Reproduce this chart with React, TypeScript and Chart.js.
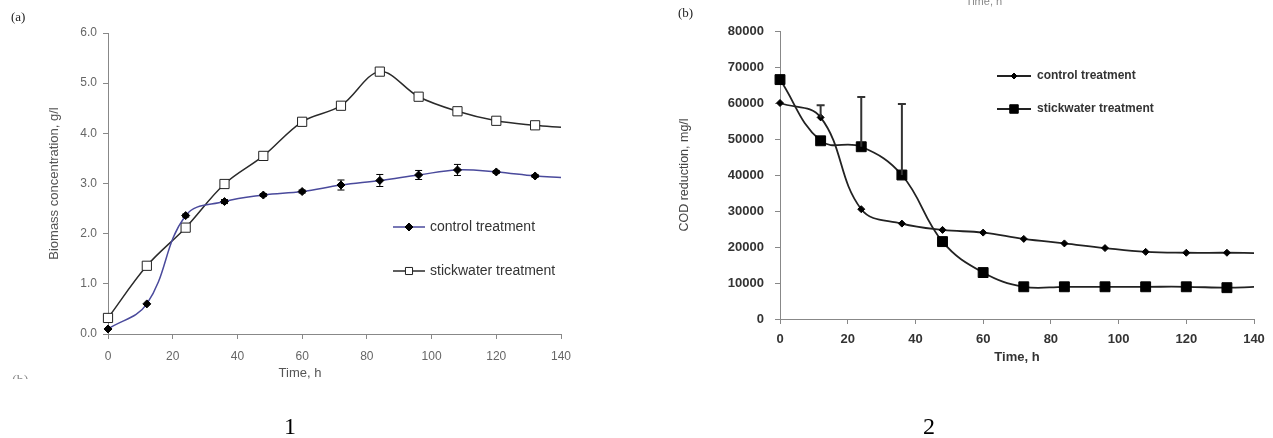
import React, { useEffect, useRef } from 'react';
import { Chart, registerables } from 'chart.js';
import { drawPoint } from 'chart.js/helpers';

Chart.register(...registerables);

const SANS = '"Liberation Sans", Arial, sans-serif';
const SERIF = '"Liberation Serif", "Times New Roman", serif';

// ---------- data ----------
const timeH = [0, 12, 24, 36, 48, 60, 72, 84, 96, 108, 120, 132, 140];
const timeTicks = [0, 20, 40, 60, 80, 100, 120, 140];

// (a) Biomass concentration, g/l
const biomassControl = [0.1, 0.6, 2.36, 2.64, 2.77, 2.84, 2.97, 3.06, 3.17, 3.27, 3.23, 3.15, 3.12];
const biomassControlErr = [0, 0, 0.03, 0.04, 0.03, 0.03, 0.1, 0.12, 0.09, 0.11, 0.03, 0.03, 0];
const biomassStickwater = [0.32, 1.36, 2.12, 2.99, 3.55, 4.23, 4.55, 5.23, 4.73, 4.44, 4.25, 4.16, 4.12];
const biomassTicks = [0, 1, 2, 3, 4, 5, 6];

// (b) COD reduction, mg/l
const codControl = [60000, 56000, 30500, 26500, 24750, 24000, 22250, 21000, 19700, 18650, 18400, 18400, 18300];
const codControlErrUp = [0, 3400, 0, 0, 0, 0, 0, 0, 0, 0, 0, 0, 0];
const codStickwater = [66500, 49500, 47850, 40000, 21500, 12900, 8950, 8950, 8950, 8950, 8950, 8700, 8900];
const codStickwaterErrUp = [0, 0, 13850, 19750, 0, 0, 0, 0, 0, 0, 0, 0, 0];
const codTicks = [0, 10000, 20000, 30000, 40000, 50000, 60000, 70000, 80000];

const seriesLabels = ['control treatment', 'stickwater treatment'];

const pts = (ys: number[]) => timeH.map((x, i) => ({ x, y: ys[i] }));
const radiusExceptLast = (r: number) => (c: any) =>
  c.dataIndex === c.dataset.data.length - 1 ? 0 : r;

// ---------- plugin ----------
const extrasPlugin = {
  id: 'extras',
  afterDatasetsDraw(chart: any) {
    const ctx = chart.ctx;
    const xs = chart.scales.x;
    const ys = chart.scales.y;
    chart.data.datasets.forEach((ds: any) => {
      if (!ds.errUp && !ds.errDown) return;
      ctx.save();
      ctx.strokeStyle = ds.errColor || '#000';
      ctx.lineWidth = ds.errWidth || 1;
      ds.data.forEach((p: any, i: number) => {
        const up = ds.errUp ? ds.errUp[i] : 0;
        const dn = ds.errDown ? ds.errDown[i] : 0;
        if (!up && !dn) return;
        const x = xs.getPixelForValue(p.x);
        const y1 = ys.getPixelForValue(p.y + up);
        const y2 = ys.getPixelForValue(p.y - dn);
        const c = ds.errCap || 4;
        ctx.beginPath();
        ctx.moveTo(x, y1);
        ctx.lineTo(x, y2);
        if (up) { ctx.moveTo(x - c, y1); ctx.lineTo(x + c, y1); }
        if (dn) { ctx.moveTo(x - c, y2); ctx.lineTo(x + c, y2); }
        ctx.stroke();
      });
      ctx.restore();
    });
  },
  afterDraw(chart: any, _args: any, opts: any) {
    const ctx = chart.ctx;
    (opts.legend || []).forEach((item: any) => {
      const ds = chart.data.datasets[item.dataset];
      ctx.save();
      ctx.strokeStyle = ds.borderColor;
      ctx.lineWidth = ds.borderWidth;
      ctx.beginPath();
      ctx.moveTo(item.x1, item.y);
      ctx.lineTo(item.x2, item.y);
      ctx.stroke();
      ctx.fillStyle = ds.pointBackgroundColor;
      ctx.strokeStyle = ds.pointBorderColor;
      ctx.lineWidth = ds.pointBorderWidth;
      drawPoint(ctx, { pointStyle: ds.pointStyle, rotation: 0, radius: item.radius, borderWidth: ds.pointBorderWidth } as any,
        (item.x1 + item.x2) / 2, item.y);
      ctx.font = item.font;
      ctx.fillStyle = item.color;
      ctx.textAlign = 'left';
      ctx.textBaseline = 'middle';
      ctx.fillText(ds.label, item.tx, item.y);
      ctx.restore();
    });
    (opts.texts || []).forEach((t: any) => {
      ctx.save();
      if (t.clip) {
        ctx.beginPath();
        ctx.rect(t.clip[0], t.clip[1], t.clip[2], t.clip[3]);
        ctx.clip();
      }
      ctx.font = t.font;
      ctx.fillStyle = t.color;
      ctx.textAlign = t.align || 'left';
      ctx.textBaseline = t.baseline || 'middle';
      ctx.fillText(t.text, t.x, t.y);
      ctx.restore();
    });
  },
};

function axisGrid(color: string) {
  return {
    display: true,
    drawOnChartArea: false,
    drawTicks: true,
    tickLength: 5,
    color,
    lineWidth: 1,
  };
}

function makeBiomassConfig(): any {
  return {
    type: 'line',
    data: {
      datasets: [
        {
          label: seriesLabels[0],
          data: pts(biomassControl),
          borderColor: '#4a4a9c',
          borderWidth: 1.5,
          pointStyle: 'rectRot',
          pointRadius: radiusExceptLast(4),
          pointBackgroundColor: '#000',
          pointBorderColor: '#000',
          pointBorderWidth: 1,
          tension: 0.4,
          clip: false,
          errUp: biomassControlErr,
          errDown: biomassControlErr,
          errColor: '#000',
          errWidth: 1,
          errCap: 3.5,
        },
        {
          label: seriesLabels[1],
          data: pts(biomassStickwater),
          borderColor: '#2a2a2a',
          borderWidth: 1.5,
          pointStyle: 'rect',
          pointRadius: radiusExceptLast(6.5),
          pointBackgroundColor: '#fff',
          pointBorderColor: '#222',
          pointBorderWidth: 1,
          tension: 0.35,
          clip: false,
        },
      ],
    },
    options: {
      responsive: false,
      animation: false,
      devicePixelRatio: 1,
      layout: { padding: { left: 0, top: 33, right: 69, bottom: 48 } },
      plugins: {
        legend: { display: false },
        tooltip: { enabled: false },
        extras: {
          legend: [
            { dataset: 0, x1: 393, x2: 425, y: 227, tx: 430, radius: 4, font: `14px ${SANS}`, color: '#333' },
            { dataset: 1, x1: 393, x2: 425, y: 271, tx: 430, radius: 5, font: `14px ${SANS}`, color: '#333' },
          ],
          texts: [
            { text: '(a)', x: 11, y: 18, font: `13px ${SERIF}`, color: '#222' },
            { text: 'Time, h', x: 300, y: 373, align: 'center', font: `13px ${SANS}`, color: '#555' },
            { text: '(b)', x: 12, y: 374, baseline: 'top', font: `14px ${SERIF}`, color: '#888', clip: [0, 360, 60, 19] },
            { text: '1', x: 290, y: 434, align: 'center', baseline: 'alphabetic', font: `24px ${SERIF}`, color: '#000' },
          ],
        },
      },
      scales: {
        x: {
          type: 'linear',
          min: 0,
          max: 140,
          afterBuildTicks: (s: any) => { s.ticks = timeTicks.map((v) => ({ value: v })); },
          ticks: { color: '#666', font: { family: SANS, size: 12 }, padding: 10, maxRotation: 0 },
          grid: axisGrid('#888'),
          border: { display: true, color: '#888', width: 1 },
          afterFit: (s: any) => { s.height = 56; },
        },
        y: {
          type: 'linear',
          min: 0,
          max: 6,
          afterBuildTicks: (s: any) => { s.ticks = biomassTicks.map((v) => ({ value: v })); },
          ticks: {
            color: '#666',
            font: { family: SANS, size: 12 },
            padding: 6,
            callback: (v: any) => Number(v).toFixed(1),
          },
          grid: axisGrid('#888'),
          border: { display: true, color: '#888', width: 1 },
          title: {
            display: true,
            text: 'Biomass concentration, g/l',
            color: '#555',
            font: { family: SANS, size: 13 },
            padding: { top: 47, bottom: 0 },
          },
          afterFit: (s: any) => { s.width = 108; },
        },
      },
    },
    plugins: [extrasPlugin],
  };
}

function makeCodConfig(): any {
  return {
    type: 'line',
    data: {
      datasets: [
        {
          label: seriesLabels[0],
          data: pts(codControl),
          borderColor: '#222',
          borderWidth: 1.8,
          pointStyle: 'rectRot',
          pointRadius: radiusExceptLast(3.5),
          pointBackgroundColor: '#000',
          pointBorderColor: '#000',
          pointBorderWidth: 1,
          tension: 0.4,
          clip: false,
          errUp: codControlErrUp,
          errColor: '#333',
          errWidth: 2,
          errCap: 4,
        },
        {
          label: seriesLabels[1],
          data: pts(codStickwater),
          borderColor: '#222',
          borderWidth: 1.8,
          pointStyle: 'rect',
          pointRadius: radiusExceptLast(7),
          pointBackgroundColor: '#000',
          pointBorderColor: '#000',
          pointBorderWidth: 1,
          tension: 0.4,
          clip: false,
          errUp: codStickwaterErrUp,
          errColor: '#333',
          errWidth: 2,
          errCap: 4,
        },
      ],
    },
    options: {
      responsive: false,
      animation: false,
      devicePixelRatio: 1,
      layout: { padding: { left: 0, top: 31, right: 19, bottom: 48 } },
      plugins: {
        legend: { display: false },
        tooltip: { enabled: false },
        extras: {
          legend: [
            { dataset: 0, x1: 367, x2: 401, y: 76, tx: 407, radius: 3, font: `bold 12px ${SANS}`, color: '#333' },
            { dataset: 1, x1: 367, x2: 401, y: 109, tx: 407, radius: 6, font: `bold 12px ${SANS}`, color: '#333' },
          ],
          texts: [
            { text: '(b)', x: 48, y: 14, font: `13px ${SERIF}`, color: '#222' },
            { text: 'Time, h', x: 354, y: 2, align: 'center', font: `11px ${SANS}`, color: '#888' },
            { text: '2', x: 299, y: 434, align: 'center', baseline: 'alphabetic', font: `24px ${SERIF}`, color: '#000' },
          ],
        },
      },
      scales: {
        x: {
          type: 'linear',
          min: 0,
          max: 140,
          afterBuildTicks: (s: any) => { s.ticks = timeTicks.map((v) => ({ value: v })); },
          ticks: { color: '#333', font: { family: SANS, size: 13, weight: 'bold' }, padding: 8, maxRotation: 0 },
          grid: axisGrid('#888'),
          border: { display: true, color: '#888', width: 1 },
          title: {
            display: true,
            text: 'Time, h',
            color: '#333',
            font: { family: SANS, size: 13, weight: 'bold' },
            padding: { top: 0, bottom: 25 },
          },
          afterFit: (s: any) => { s.height = 71; },
        },
        y: {
          type: 'linear',
          min: 0,
          max: 80000,
          afterBuildTicks: (s: any) => { s.ticks = codTicks.map((v) => ({ value: v })); },
          ticks: {
            color: '#333',
            font: { family: SANS, size: 13, weight: 'bold' },
            padding: 11,
            callback: (v: any) => String(v),
          },
          grid: axisGrid('#888'),
          border: { display: true, color: '#888', width: 1 },
          title: {
            display: true,
            text: 'COD reduction, mg/l',
            color: '#444',
            font: { family: SANS, size: 12.5 },
            padding: { top: 47, bottom: 0 },
          },
          afterFit: (s: any) => { s.width = 150; },
        },
      },
    },
    plugins: [extrasPlugin],
  };
}

function ChartCanvas({ make, left, width, height }: { make: () => any; left: number; width: number; height: number }) {
  const ref = useRef<HTMLCanvasElement | null>(null);
  useEffect(() => {
    if (!ref.current) return;
    const chart = new Chart(ref.current, make());
    return () => chart.destroy();
  }, [make]);
  return (
    <canvas
      ref={ref}
      width={width}
      height={height}
      style={{ position: 'absolute', left, top: 0, width, height, display: 'block' }}
    />
  );
}

export default function App() {
  return (
    <div style={{ position: 'absolute', left: 0, top: 0, width: 1273, height: 438, background: '#fff', overflow: 'hidden' }}>
      <ChartCanvas make={makeBiomassConfig} left={0} width={630} height={438} />
      <ChartCanvas make={makeCodConfig} left={630} width={643} height={438} />
    </div>
  );
}
